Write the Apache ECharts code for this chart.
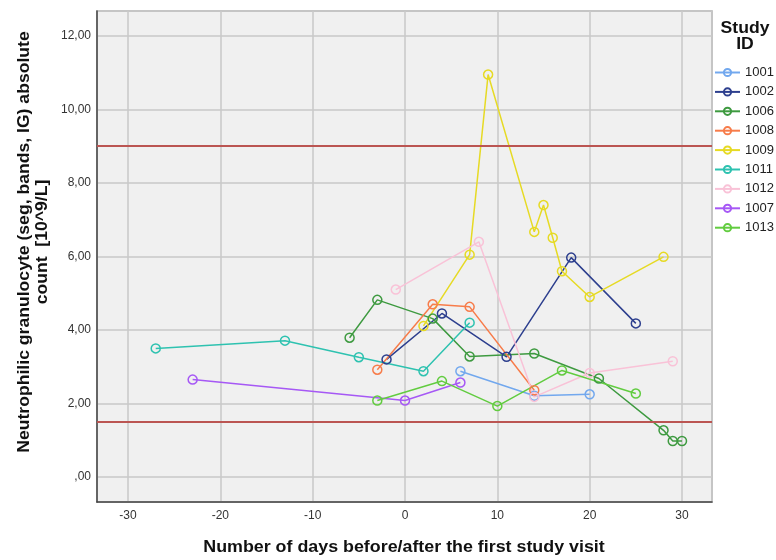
<!DOCTYPE html>
<html>
<head>
<meta charset="utf-8">
<script src="https://cdn.jsdelivr.net/npm/echarts@6/dist/echarts.min.js"></script>
<style>html,body{margin:0;padding:0;background:#fff;}#c{width:776px;height:560px;}</style>
</head>
<body>
<div id="c"></div>
<script>
// Study IDs (legend order)
const studyIds = ['1001','1002','1006','1008','1009','1011','1012','1007','1013'];
// [day, count] pairs per study
const s1001 = [[6,2.88],[14,2.21],[20,2.25]];
const s1002 = [[-2,3.20],[4,4.45],[11,3.27],[18,5.97],[25,4.18]];
const s1006 = [[-6,3.79],[-3,4.82],[3,4.31],[7,3.28],[14,3.36],[21,2.68],[28,1.27],[29,0.98],[30,0.98]];
const s1008 = [[-3,2.92],[3,4.70],[7,4.63],[14,2.36]];
const s1009 = [[2,4.11],[7,6.05],[9,10.95],[14,6.67],[15,7.40],[16,6.51],[17,5.60],[20,4.90],[28,5.99]];
const s1011 = [[-27,3.50],[-13,3.71],[-5,3.26],[2,2.88],[7,4.20]];
const s1012 = [[-1,5.10],[8,6.40],[14,2.18],[20,2.83],[29,3.15]];
const s1007 = [[-23,2.65],[0,2.08],[6,2.57]];
const s1013 = [[-3,2.08],[4,2.61],[10,1.93],[17,2.90],[25,2.27]];
const seriesData = [s1001,s1002,s1006,s1008,s1009,s1011,s1012,s1007,s1013];
const colors = ['#72a8ee','#2d3f8e','#3e9a40','#f77c4a','#e6da24','#2ec2b0','#f9c2d7','#a658f5','#62cc40'];
// reference limits
const refLines = [9, 1.5];
// axis ranges
const xRange = [-33.36, 33.25];
const yRange = [-0.68, 12.68];

const chart = echarts.init(document.getElementById('c'), null, {renderer:'canvas'});
const FONT = '"Liberation Sans", Arial, sans-serif';

const series = studyIds.map((id, i) => ({
  name: id,
  type: 'line',
  data: seriesData[i],
  symbol: 'circle',
  symbolSize: 9,
  showAllSymbol: true,
  color: colors[i],
  lineStyle: {width: 1.5, color: colors[i]},
  itemStyle: {color: 'rgba(0,0,0,0)', borderColor: colors[i], borderWidth: 1.5},
  emphasis: {disabled: true},
  animation: false,
  z: 3
}));
series.push({
  name: 'ref',
  type: 'line',
  data: [],
  silent: true,
  animation: false,
  markLine: {
    silent: true,
    symbol: ['none','none'],
    label: {show: false},
    lineStyle: {color: '#bb5552', width: 2, type: 'solid'},
    data: refLines.map(v => ({yAxis: v})),
    animation: false
  },
  z: 2
});

function fmtY(v){
  if (Math.abs(v/2 - Math.round(v/2)) > 1e-6) return '';
  let s = v.toFixed(2).replace('.', ',');
  if (s.startsWith('0')) s = s.substring(1);
  return s;
}
function fmtX(v){
  if (Math.abs(v/10 - Math.round(v/10)) > 1e-6) return '';
  return String(Math.round(v));
}

chart.setOption({
  animation: false,
  backgroundColor: '#ffffff',
  grid: {left: 97, right: 64, top: 11, bottom: 58, show: true, backgroundColor: '#f0f0f0', borderColor: '#a8a8a8', borderWidth: 1.5},
  xAxis: {
    type: 'value', min: xRange[0], max: xRange[1], splitNumber: 5,
    axisLine: {show: true, onZero: false, lineStyle: {color: '#444', width: 1.5}},
    axisTick: {show: false},
    axisLabel: {formatter: fmtX, color: '#333', fontFamily: FONT, fontSize: 12, margin: 8, showMinLabel: false, showMaxLabel: false},
    splitLine: {show: true, lineStyle: {color: '#c8c8c8', width: 1.5}}
  },
  yAxis: {
    type: 'value', min: yRange[0], max: yRange[1], splitNumber: 6,
    axisLine: {show: true, onZero: false, lineStyle: {color: '#444', width: 1.5}},
    axisTick: {show: false},
    axisLabel: {formatter: fmtY, color: '#333', fontFamily: FONT, fontSize: 12, margin: 6, showMinLabel: false, showMaxLabel: false},
    splitLine: {show: true, lineStyle: {color: '#c8c8c8', width: 1.5}}
  },
  legend: {
    orient: 'vertical', left: 714, top: 66, padding: 0,
    itemWidth: 25, itemHeight: 9, itemGap: 6.4,
    data: studyIds,
    textStyle: {color: '#222', fontFamily: FONT, fontSize: 13},
    selectedMode: false
  },
  graphic: [
    {type: 'text', x: 745, y: 36.5, scaleX: 1.1, style: {text: 'Study\nID', fill: '#111', font: 'bold 16px ' + FONT, align: 'center', verticalAlign: 'middle', lineHeight: 16}},
    {type: 'text', x: 404, y: 548, scaleX: 1.115, style: {text: 'Number of days before/after the first study visit', fill: '#111', font: 'bold 16px ' + FONT, align: 'center', verticalAlign: 'middle'}},
    {type: 'text', x: 33.5, y: 242, rotation: Math.PI/2, scaleX: 1.1, style: {text: 'Neutrophilic granulocyte (seg, bands, IG) absolute\ncount  [10^9/L]', fill: '#111', font: 'bold 16px ' + FONT, align: 'center', verticalAlign: 'middle', lineHeight: 17.3}}
  ],
  series: series
});
</script>
</body>
</html>
